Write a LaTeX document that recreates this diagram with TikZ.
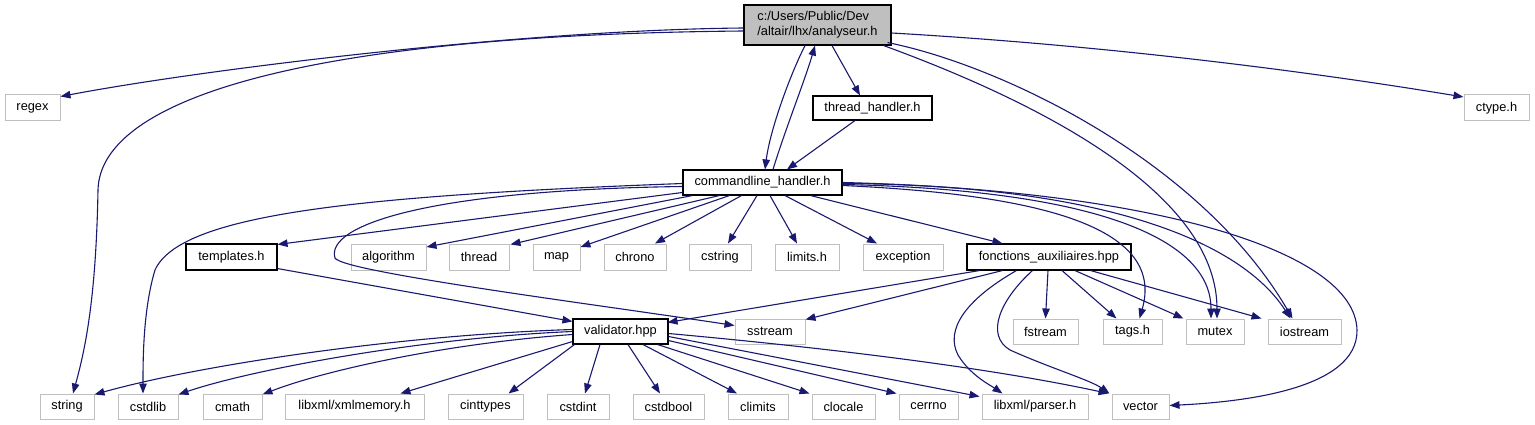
\documentclass[tikz,border=0pt]{standalone}
\usepackage{fontspec}
\setmainfont{Liberation Sans}
\usetikzlibrary{arrows.meta,calc}
\definecolor{edgec}{HTML}{191970}
\definecolor{extc}{HTML}{BFBFBF}
\begin{document}
\begin{tikzpicture}[x=1pt,y=-1pt,
  box/.style={rectangle,inner sep=0pt,font=\fontsize{12.8}{15}\selectfont,text=black,line width=1pt},
  ext/.style={box,draw=extc,fill=white},
  int/.style={box,draw=black,fill=white,line width=1.1pt},
  dep/.style={draw=edgec,line width=1.1pt,-{Triangle[length=10pt,width=7.5pt]}}]
\useasboundingbox[fill=white] (0,0) rectangle (1535,425);
% nodes
\node[int,fill=extc,minimum width=147pt,minimum height=40pt,align=left] (A) at (817.5,25) {c:/Users/Public/Dev\\/altair/lhx/analyseur.h};
\node[int,minimum width=119pt,minimum height=24pt] (th) at (872.5,108) {thread\_handler.h};
\node[int,minimum width=159pt,minimum height=25pt] (C) at (762.5,182.5) {commandline\_handler.h};
\node[ext,minimum width=55pt,minimum height=26pt] (regex) at (32.5,108) {regex};
\node[ext,minimum width=65pt,minimum height=26pt] (ctype) at (1496.5,108) {ctype.h};
% row 2
\node[int,minimum width=91pt,minimum height=26pt] (templates) at (231.5,257) {templates.h};
\node[ext,minimum width=75pt,minimum height=26pt] (algorithm) at (388.5,257) {algorithm};
\node[ext,minimum width=60pt,minimum height=26pt] (thread) at (479,257) {thread};
\node[ext,minimum width=47pt,minimum height=26pt] (map) at (556.5,257) {map};
\node[ext,minimum width=62pt,minimum height=26pt] (chrono) at (635,257) {chrono};
\node[ext,minimum width=62pt,minimum height=26pt] (cstring) at (720,257) {cstring};
\node[ext,minimum width=64pt,minimum height=26pt] (limits) at (807,257) {limits.h};
\node[ext,minimum width=80pt,minimum height=26pt] (exception) at (903,257) {exception};
\node[int,minimum width=164pt,minimum height=26pt] (F) at (1049,257) {fonctions\_auxiliaires.hpp};
% row 3
\node[int,minimum width=95pt,minimum height=25pt] (V) at (620.5,331.5) {validator.hpp};
\node[ext,minimum width=70pt,minimum height=25pt] (sstream) at (770,331.5) {sstream};
\node[ext,minimum width=65pt,minimum height=25pt] (fstream) at (1045.5,331.5) {fstream};
\node[ext,minimum width=59pt,minimum height=25pt] (tags) at (1132.5,331.5) {tags.h};
\node[ext,minimum width=58pt,minimum height=25pt] (mutex) at (1215,331.5) {mutex};
\node[ext,minimum width=73pt,minimum height=25pt] (iostream) at (1304.5,331.5) {iostream};
% row 4
\node[ext,minimum width=54pt,minimum height=25pt] (string) at (67,406.5) {string};
\node[ext,minimum width=60pt,minimum height=25pt] (cstdlib) at (148,406.5) {cstdlib};
\node[ext,minimum width=59pt,minimum height=25pt] (cmath) at (232.5,406.5) {cmath};
\node[ext,minimum width=139pt,minimum height=25pt] (xml) at (354.5,406.5) {libxml/xmlmemory.h};
\node[ext,minimum width=75pt,minimum height=25pt] (cinttypes) at (485.5,406.5) {cinttypes};
\node[ext,minimum width=62pt,minimum height=25pt] (cstdint) at (578,406.5) {cstdint};
\node[ext,minimum width=71pt,minimum height=25pt] (cstdbool) at (668.5,406.5) {cstdbool};
\node[ext,minimum width=60pt,minimum height=25pt] (climits) at (758,406.5) {climits};
\node[ext,minimum width=63pt,minimum height=25pt] (clocale) at (843.5,406.5) {clocale};
\node[ext,minimum width=59pt,minimum height=25pt] (cerrno) at (928.5,406.5) {cerrno};
\node[ext,minimum width=106pt,minimum height=25pt] (parser) at (1035,406.5) {libxml/parser.h};
\node[ext,minimum width=57pt,minimum height=25pt] (vector) at (1140.5,406.5) {vector};
% edges from analyseur.h
\draw[dep] ($(A.west)+(0,3)$) .. controls (520,30) and (200,70) .. ($(regex.north east)+(0,2)$);
\draw[dep] ($(A.west)+(0,6)$) .. controls (300,35) and (100,100) .. (98,190) .. controls (96,300) and (85,350) .. ($(string.north)+(6,0)$);
\draw[dep] ($(A.south)+(-12.5,0)$) .. controls (790,75) and (770,130) .. ($(C.north)+(2.5,0)$);
\draw[dep] ($(C.north)+(10.5,0)$) .. controls (785,130) and (805,80) .. ($(A.south)+(-2.5,0)$);
\draw[dep] ($(A.south)+(14.5,0)$) -- ($(th.north)+(-12.5,0)$);
\draw[dep] ($(th.south)+(-17.5,0)$) -- ($(C.north)+(24.5,0)$);
\draw[dep] ($(A.south east)+(-8,0)$) .. controls (1060,110) and (1217,200) .. ($(mutex.north)+(2,0)$);
\draw[dep] ($(A.south east)+(-4,-3)$) .. controls (1000,65) and (1200,160) .. ($(iostream.north)+(-12,0)$);
\draw[dep] ($(A.east)+(0,8)$) .. controls (1100,45) and (1300,70) .. ($(ctype.west)+(0,-11)$);
% edges from commandline_handler.h
\draw[dep] ($(C.west)+(0,10)$) -- ($(templates.north east)+(0,1)$);
\draw[dep] ($(C.west)+(0,1)$) .. controls (350,196) and (180,215) .. (155,270) .. controls (143,310) and (143,360) .. ($(cstdlib.north)+(-5,0)$);
\draw[dep] ($(C.west)+(0,4)$) .. controls (430,190) and (325,225) .. (335,258) .. controls (342,272) and (600,305) .. ($(sstream.west)+(0,-6)$);
\draw[dep] ($(C.south west)+(10,0)$) -- ($(algorithm.east)+(0,-10)$);
\draw[dep] ($(C.south west)+(37,0)$) -- ($(thread.north east)+(1,1)$);
\draw[dep] ($(C.south west)+(47,0)$) -- ($(map.east)+(0,-10)$);
\draw[dep] ($(C.south west)+(59,0)$) -- ($(chrono.north)+(20,0)$);
\draw[dep] ($(C.south)+(-5.5,0)$) -- ($(cstring.north)+(8,0)$);
\draw[dep] ($(C.south)+(7.5,0)$) -- ($(limits.north)+(-10,0)$);
\draw[dep] ($(C.south)+(22.5,0)$) -- ($(exception.north)+(-26,0)$);
\draw[dep] ($(C.south east)+(-32,0)$) -- ($(F.north west)+(36,0)$);
\draw[dep] ($(C.east)+(0,3)$) .. controls (1050,195) and (1165,230) .. ($(tags.north)+(7,0)$);
\draw[dep] ($(C.east)+(0,2)$) .. controls (1100,190) and (1211,240) .. ($(mutex.north)+(-4,0)$);
\draw[dep] ($(C.east)+(0,1)$) .. controls (1100,185) and (1240,240) .. ($(iostream.north)+(-14,0)$);
\draw[dep] ($(C.east)+(0,0)$) .. controls (1150,190) and (1355,250) .. (1357,330) .. controls (1358,390) and (1240,402) .. ($(vector.east)+(0,-1)$);
% templates
\draw[dep] ($(templates.south east)+(0,-2)$) -- ($(V.north west)+(0,3)$);
% fonctions_auxiliaires.hpp
\draw[dep] ($(F.south west)+(13,0)$) -- ($(V.north east)+(-1,4)$);
\draw[dep] ($(F.south west)+(36,0)$) -- ($(sstream.north east)+(0,1)$);
\draw[dep] ($(F.south west)+(50,0)$) .. controls (965,300) and (945,330) .. (958,355) .. controls (970,375) and (990,385) .. ($(parser.north west)+(21,0)$);
\draw[dep] ($(F.south west)+(66,0)$) .. controls (1000,300) and (985,335) .. (1010,350) .. controls (1050,368) and (1090,380) .. ($(vector.north west)+(-2,0)$);
\draw[dep] ($(F.south)+(-1,0)$) -- (fstream.north);
\draw[dep] ($(F.south)+(13,0)$) -- ($(tags.north west)+(14,0)$);
\draw[dep] ($(F.south)+(26,0)$) -- ($(mutex.north west)+(-2,0)$);
\draw[dep] ($(F.south east)+(-41,0)$) -- ($(iostream.north west)+(-6,0)$);
% validator.hpp
\draw[dep] ($(V.west)+(0,-2)$) .. controls (400,335) and (200,365) .. ($(string.north east)+(0,1)$);
\draw[dep] ($(V.west)+(0,0)$) .. controls (420,338) and (250,370) .. ($(cstdlib.north east)+(0,1)$);
\draw[dep] ($(V.west)+(0,3)$) .. controls (440,344) and (320,372) .. ($(cmath.north east)+(0,1)$);
\draw[dep] ($(V.south west)+(0,-3)$) -- ($(xml.north east)+(-24,0)$);
\draw[dep] ($(V.south west)+(2,0)$) -- ($(cinttypes.north east)+(-15,0)$);
\draw[dep] ($(V.south)+(-20.5,0)$) -- ($(cstdint.north)+(7,0)$);
\draw[dep] ($(V.south)+(7.5,0)$) -- ($(cstdbool.north)+(-8.5,0)$);
\draw[dep] ($(V.south)+(22.5,0)$) -- ($(climits.north)+(-21,0)$);
\draw[dep] ($(V.south east)+(-11,0)$) -- ($(clocale.north west)+(-2,0)$);
\draw[dep] ($(V.south east)+(0,-4)$) -- ($(cerrno.north west)+(-2,0)$);
\draw[dep] ($(V.east)+(0,5)$) -- ($(parser.north west)+(-2,3)$);
\draw[dep] ($(V.east)+(0,2)$) .. controls (850,350) and (1000,370) .. ($(vector.north west)+(-3,0)$);
\end{tikzpicture}
\end{document}
